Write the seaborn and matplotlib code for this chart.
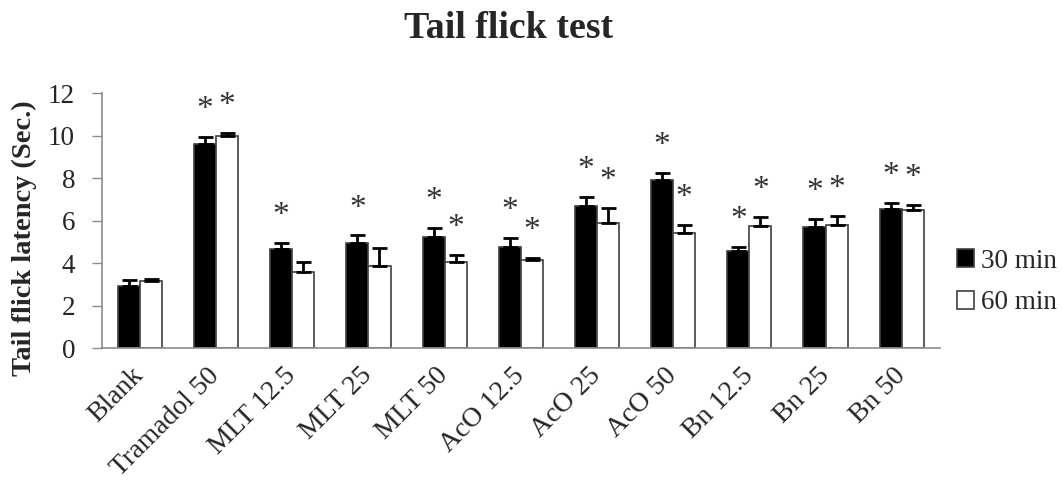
import numpy as np
import pandas as pd
import seaborn as sns
import matplotlib.pyplot as plt

# data
groups = ['Blank', 'Tramadol 50', 'MLT 12.5', 'MLT 25', 'MLT 50', 'AcO 12.5',
          'AcO 25', 'AcO 50', 'Bn 12.5', 'Bn 25', 'Bn 50']
times = ['30 min', '60 min']
mean_30 = [2.92, 9.62, 4.68, 4.97, 5.26, 4.79, 6.68, 7.92, 4.56, 5.69, 6.57]
mean_60 = [3.16, 9.97, 3.57, 3.85, 4.04, 4.15, 5.91, 5.44, 5.74, 5.78, 6.49]
sem_30 = [0.28, 0.31, 0.27, 0.34, 0.41, 0.38, 0.44, 0.31, 0.22, 0.38, 0.28]
sem_60 = [0.11, 0.15, 0.50, 0.87, 0.33, 0.09, 0.69, 0.38, 0.45, 0.46, 0.27]
sig_30 = [0, 1, 1, 1, 1, 1, 1, 1, 1, 1, 1]
sig_60 = [0, 1, 0, 0, 1, 1, 1, 1, 1, 1, 1]

df = pd.DataFrame({
    'group': groups * 2,
    'time': [times[0]] * len(groups) + [times[1]] * len(groups),
    'latency': mean_30 + mean_60,
})

sns.set_theme(style='white')
plt.rcParams['font.family'] = ['Liberation Serif', 'DejaVu Serif']

fig, ax = plt.subplots(figsize=(10.62, 4.82), dpi=100)
fig.subplots_adjust(left=0.0958, right=0.885, bottom=0.2774, top=0.8064)

sns.barplot(data=df, x='group', y='latency', hue='time', order=groups, hue_order=times,
            palette=['black', 'white'], saturation=1, width=0.58, errorbar=None,
            edgecolor='#404040', linewidth=1.2, ax=ax)

# one-sided error bars + significance stars
for cont, means, sems, sigs in zip(ax.containers, [mean_30, mean_60], [sem_30, sem_60], [sig_30, sig_60]):
    xs = [p.get_x() + p.get_width() / 2 for p in cont]
    ax.errorbar(xs, means, yerr=[np.zeros(len(means)), sems], fmt='none', ecolor='black',
                elinewidth=2, capsize=5.4, capthick=2, zorder=3)
    for x, m, s, sg in zip(xs, means, sems, sigs):
        if sg:
            ax.text(x, m + s + 1.28, '*', ha='center', va='center', fontsize=24, color='#333333')

ax.set_ylim(0, 12)
ax.set_xlim(-0.5, 10.5)
ax.set_yticks(np.arange(0, 13, 2))
ax.set_xlabel('')
ax.set_ylabel('Tail flick latency (Sec.)', fontsize=20.5, fontweight='bold')
ax.yaxis.set_label_coords(-0.077, 0.433)

sns.despine(ax=ax)
for sp in ['left', 'bottom']:
    ax.spines[sp].set_color('#8c8c8c')
    ax.spines[sp].set_linewidth(1.2)

ax.tick_params(axis='y', left=True, direction='out', length=7.2, width=1, color='#8c8c8c',
               pad=12, labelsize=19.5)
ax.tick_params(axis='x', bottom=False, length=0, pad=17, labelsize=20)
for lab in ax.get_xticklabels():
    lab.set_rotation(45)
    lab.set_ha('right')
    lab.set_va('center')
    lab.set_rotation_mode('anchor')

ax.legend(loc='center left', bbox_to_anchor=(1.02, 0.26), frameon=False, fontsize=19.5,
          handlelength=0.65, handleheight=0.65, handletextpad=0.25, labelspacing=0.6,
          borderaxespad=0, borderpad=0)

fig.text(0.479, 1 - 38 / 482, 'Tail flick test', ha='center', va='baseline',
         fontsize=27.3, fontweight='bold')

fig.savefig('out.png', dpi=100)
